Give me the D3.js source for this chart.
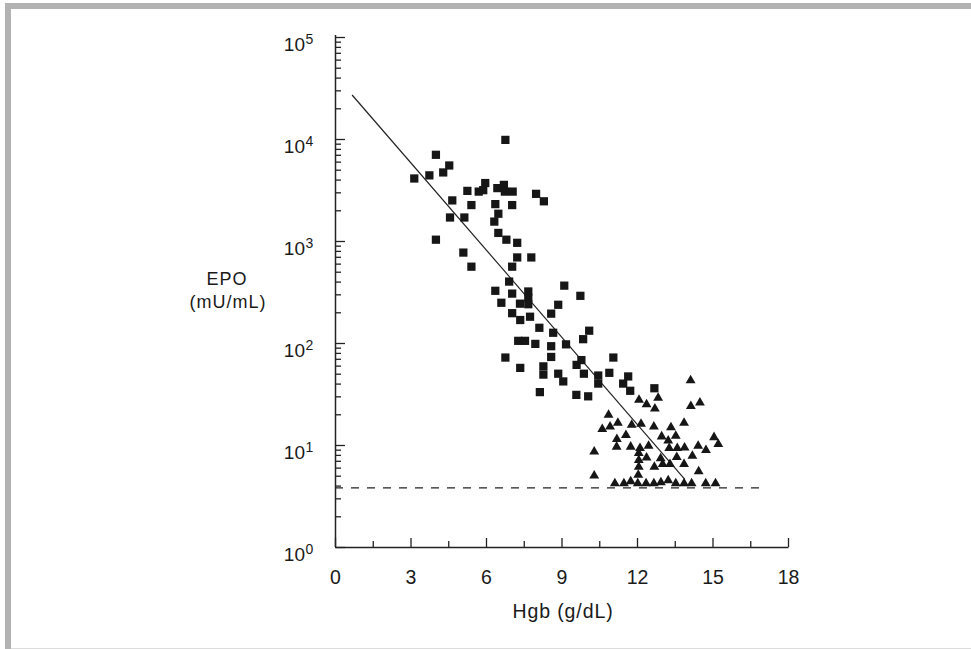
<!DOCTYPE html>
<html>
<head>
<meta charset="utf-8">
<script src="https://cdn.jsdelivr.net/npm/d3@7"></script>
<style>
  html, body { margin: 0; padding: 0; background: #fff; }
  svg { display: block; }
  text { font-family: "Liberation Sans", Arial, Helvetica, sans-serif; fill: #1a1a1a; }
</style>
</head>
<body>
<svg id="chart" width="971" height="649"></svg>
<script>
// ---- data (Hgb in g/dL, EPO in mU/mL) ----
const squareHgb = [6.77,4.01,4.54,4.30,3.75,3.15,5.97,5.26,5.71,5.89,6.45,6.71,6.75,7.06,7.99,8.30,4.66,5.42,6.37,7.04,6.49,6.33,4.57,5.14,6.49,6.81,7.24,4.01,5.10,7.24,7.80,5.42,7.04,6.92,6.37,7.04,7.68,7.68,7.68,7.35,6.61,9.11,9.75,8.87,7.04,7.36,7.75,8.59,8.12,8.67,10.10,9.86,7.28,7.55,7.96,8.59,8.59,9.18,6.77,9.79,11.06,7.36,8.28,8.28,9.60,9.89,8.87,9.07,10.46,10.46,10.90,11.65,11.45,11.73,8.14,9.59,10.06,12.69];
const squareEPO = [9800,7000,5500,4700,4400,4100,3700,3100,3050,3150,3300,3550,3050,3050,2900,2450,2500,2250,2300,2250,1850,1550,1700,1700,1200,1030,960,1030,770,690,690,560,560,400,325,305,320,278,240,243,248,365,290,237,196,168,181,194,141,126,132,109,105,105,98,93,73,97,72,68,72,57,59,49,61,50,50,42,48,40,51,47,40,34,33,31,30,36];

const triangleHgb = [14.13,12.08,12.84,12.38,12.71,14.14,14.50,10.87,11.24,10.93,10.62,11.79,12.16,12.67,13.35,13.87,11.56,11.20,11.19,11.75,12.12,12.46,12.98,13.24,13.54,13.28,13.60,13.89,14.43,14.74,15.06,15.23,10.30,12.07,12.38,12.07,12.07,12.94,13.58,12.69,13.02,13.31,13.87,14.20,14.45,12.05,10.30,
  11.12,11.48,11.75,12.03,12.36,12.67,12.95,13.24,13.54,13.87,14.17,14.73,15.12];
const triangleEPO = [43,27.6,29,25,22.7,24,26,19.7,16.5,15.1,14.3,15.7,16.1,15.1,14.9,16.5,12.5,11.4,9.6,9.6,9.3,9.8,12.1,11.0,12.3,9.3,9.3,9.4,9.8,8.9,11.9,10.2,8.6,8.3,7.5,7.1,6.1,7.4,7.6,6.1,6.5,6.5,6.5,7.8,5.5,5.1,5.0,
  4.2,4.2,4.4,4.2,4.2,4.2,4.3,4.5,4.2,4.2,4.2,4.2,4.2];

// regression line end points [Hgb, EPO]
const regressionHgb = [0.68, 13.9];
const regressionEPO = [27000, 4.6];
// lower limit (dashed)
const limitHgb = [0, 17];
const limitEPO = 3.8;

const xTicksMajor = [0, 3, 6, 9, 12, 15, 18];
const xTicksMinor = [1.5, 4.5, 7.5, 10.5, 13.5, 16.5];
const yExponents = [0, 1, 2, 3, 4, 5];

// ---- chart ----
const svg = d3.select("#chart");

// frame
svg.append("rect").attr("x", 5).attr("y", 3).attr("width", 966).attr("height", 6).attr("fill", "#b3b3b3");
svg.append("rect").attr("x", 5).attr("y", 3).attr("width", 6).attr("height", 646).attr("fill", "#b3b3b3");
svg.append("line").attr("x1", 11).attr("x2", 971).attr("y1", 648.5).attr("y2", 648.5).attr("stroke", "#dcdcdc").attr("stroke-width", 1);

const x = d3.scaleLinear().domain([0, 18]).range([335, 788]);
const y = d3.scaleLog().domain([1, 1e5]).range([547, 37]);

const axisColor = "#222";

// y axis: major ticks
const yMajor = yExponents.map(e => Math.pow(10, e));
const yMinor = [];
yExponents.slice(0, -1).forEach(e => { for (let k = 2; k <= 9; k++) yMinor.push(k * Math.pow(10, e)); });

const gy = svg.append("g").attr("transform", `translate(${x(0)},0)`);
gy.call(d3.axisRight(y).tickValues(yMajor).tickSize(10).tickSizeOuter(0).tickFormat(""));
gy.append("g").call(d3.axisRight(y).tickValues(yMinor).tickSize(6).tickSizeOuter(0).tickFormat(""))
  .select(".domain").remove();
gy.selectAll("path.domain").attr("stroke", axisColor).attr("stroke-width", 1.5).attr("d", `M0.5,${y(1)}V35`);
gy.selectAll(".tick line").attr("stroke", axisColor).attr("stroke-width", 1.3);

// y labels with superscripts
const ylab = svg.append("g");
yExponents.forEach(e => {
  ylab.append("text")
    .attr("x", 305).attr("y", y(Math.pow(10, e)) + 14)
    .attr("text-anchor", "end").attr("font-size", 19).text("10");
  ylab.append("text")
    .attr("x", 305.5).attr("y", y(Math.pow(10, e)) + 7)
    .attr("font-size", 14).text(String(e));
});

// x axis
const gx = svg.append("g").attr("transform", `translate(0,${y(1)})`);
gx.call(d3.axisBottom(x).tickValues(xTicksMajor).tickSize(-9).tickSizeOuter(0).tickPadding(23).tickFormat(d3.format("d")));
gx.append("g").call(d3.axisBottom(x).tickValues(xTicksMinor).tickSize(-6).tickSizeOuter(0).tickFormat(""))
  .select(".domain").remove();
gx.selectAll("path.domain").attr("stroke", axisColor).attr("stroke-width", 1.5);
gx.selectAll(".tick line").attr("stroke", axisColor).attr("stroke-width", 1.3);
gx.selectAll(".tick text").attr("font-size", 19.5).attr("fill", "#1a1a1a")
  .attr("font-family", "'Liberation Sans', Arial, Helvetica, sans-serif");

// axis titles
svg.append("text").attr("x", 563).attr("y", 618).attr("text-anchor", "middle")
  .attr("font-size", 19.5).attr("letter-spacing", 0.9).text("Hgb (g/dL)");
svg.append("text").attr("x", 227).attr("y", 285).attr("text-anchor", "middle")
  .attr("font-size", 18).attr("letter-spacing", 1).text("EPO");
svg.append("text").attr("x", 228).attr("y", 308).attr("text-anchor", "middle")
  .attr("font-size", 18).attr("letter-spacing", 1).text("(mU/mL)");

// dashed limit line
svg.append("line")
  .attr("x1", x(limitHgb[0])).attr("x2", x(limitHgb[1]))
  .attr("y1", y(limitEPO)).attr("y2", y(limitEPO))
  .attr("stroke", "#222").attr("stroke-width", 1.3).attr("stroke-dasharray", "8,8");

// regression line
const regData = regressionHgb.map((h, i) => [h, regressionEPO[i]]);
svg.append("path")
  .attr("d", d3.line().x(d => x(d[0])).y(d => y(d[1]))(regData))
  .attr("stroke", "#222").attr("stroke-width", 1.2).attr("fill", "none");

// squares
const sq = squareHgb.map((h, i) => [h, squareEPO[i]]);
svg.append("g").selectAll("path").data(sq).join("path")
  .attr("d", d3.symbol(d3.symbolSquare, 68))
  .attr("transform", d => `translate(${x(d[0])},${y(d[1])})`)
  .attr("fill", "#161616");

// triangles
const tr = triangleHgb.map((h, i) => [h, triangleEPO[i]]);
svg.append("g").selectAll("path").data(tr).join("path")
  .attr("d", d3.symbol(d3.symbolTriangle, 42))
  .attr("transform", d => `translate(${x(d[0])},${y(d[1])})`)
  .attr("fill", "#161616");
</script>
</body>
</html>
